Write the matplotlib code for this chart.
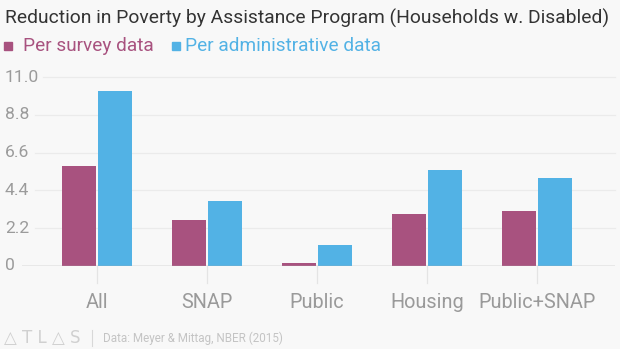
import matplotlib.pyplot as plt
import matplotlib.transforms as mtransforms
import numpy as np

plt.rcParams['font.family'] = ['Roboto', 'DejaVu Sans']

# Poverty reduction (percentage points), households with a disabled member
programs = ["All", "SNAP", "Public", "Housing", "Public+SNAP"]
survey = [5.8, 2.7, 0.2, 3.0, 3.2]
admin = [10.2, 3.8, 1.2, 5.6, 5.1]
yticks = [0, 2.2, 4.4, 6.6, 8.8, 11.0]
ytick_labels = ["0", "2.2", "4.4", "6.6", "8.8", "11.0"]

SURVEY_COLOR = "#a8527f"
ADMIN_COLOR = "#52b2e5"
BG = "#f8f8f8"

fig = plt.figure(figsize=(6.2, 3.49), dpi=100, facecolor=BG)
W, H = 620, 349
ax = fig.add_axes([22 / W, 83 / H, (615 - 22) / W, (266 - 77) / H])
ax.set_facecolor(BG)

x = np.arange(len(programs))
bw = 0.31
gap = 0.012
ax.bar(x - bw / 2 - gap, survey, width=bw, color=SURVEY_COLOR, zorder=3)
ax.bar(x + bw / 2 + gap, admin, width=bw, color=ADMIN_COLOR, zorder=3)

ax.set_xlim(-0.682, 4.709)
ax.set_ylim(0, 11)
for s in ax.spines.values():
    s.set_visible(False)
ax.set_xticks([])
ax.set_yticks([])

# gridlines start just after each label
trans_lbl = mtransforms.blended_transform_factory(fig.transFigure, ax.transData)
for v, lab in zip(yticks, ytick_labels):
    if v == 0:
        ax.axhline(0, color="#a9a9a9", lw=1.0, zorder=4)
    else:
        start = 0.035 if lab == "11.0" else 0.022
        ax.axhline(v, xmin=start, color="#ebebeb", lw=0.9, zorder=1, clip_on=False)
    ax.text(5 / W, v, lab, transform=trans_lbl, ha="left", va="center",
            fontsize=12.6, color="#9b9b9b")

# category ticks and labels below the baseline
trans_cat = mtransforms.blended_transform_factory(ax.transData, fig.transFigure)
for xi, name in zip(x, programs):
    ax.plot([xi, xi], [(349 - 266) / H, (349 - 283) / H], transform=trans_cat,
            color="#e4e4e4", lw=0.9, clip_on=False)
    ax.text(xi, (349 - 302) / H, name, transform=trans_cat, ha="center",
            va="center", fontsize=14.3, color="#9a9a9a")

# title and legend
fig.text(5 / W, 1 - 18 / H, "Reduction in Poverty by Assistance Program (Households w. Disabled)",
         ha="left", va="center", fontsize=13.9, color="#333333")
fig.patches.append(plt.Rectangle((4 / W, 1 - 50 / H), 8 / W, 8 / H,
                                 transform=fig.transFigure, color=SURVEY_COLOR))
fig.text(23 / W, 1 - 46 / H, "Per survey data", ha="left", va="center",
         fontsize=13.7, color=SURVEY_COLOR)
fig.patches.append(plt.Rectangle((172 / W, 1 - 50 / H), 8 / W, 8 / H,
                                 transform=fig.transFigure, color=ADMIN_COLOR))
fig.text(185 / W, 1 - 46 / H, "Per administrative data", ha="left", va="center",
         fontsize=13.7, color=ADMIN_COLOR)

# footer
fig.text(4 / W, 1 - 338 / H, "△ T L △ S", ha="left", va="center",
         fontsize=12, color="#d0d0d0", family=["DejaVu Sans"])
fig.lines.append(plt.Line2D([92 / W, 92 / W], [1 - 330 / H, 1 - 346 / H],
                            transform=fig.transFigure, color="#d8d8d8", lw=0.8))
fig.text(103 / W, 1 - 338 / H, "Data: Meyer & Mittag, NBER (2015)", ha="left",
         va="center", fontsize=8.4, color="#c4c4c4")

fig.savefig("out.png", dpi=100, facecolor=BG)
